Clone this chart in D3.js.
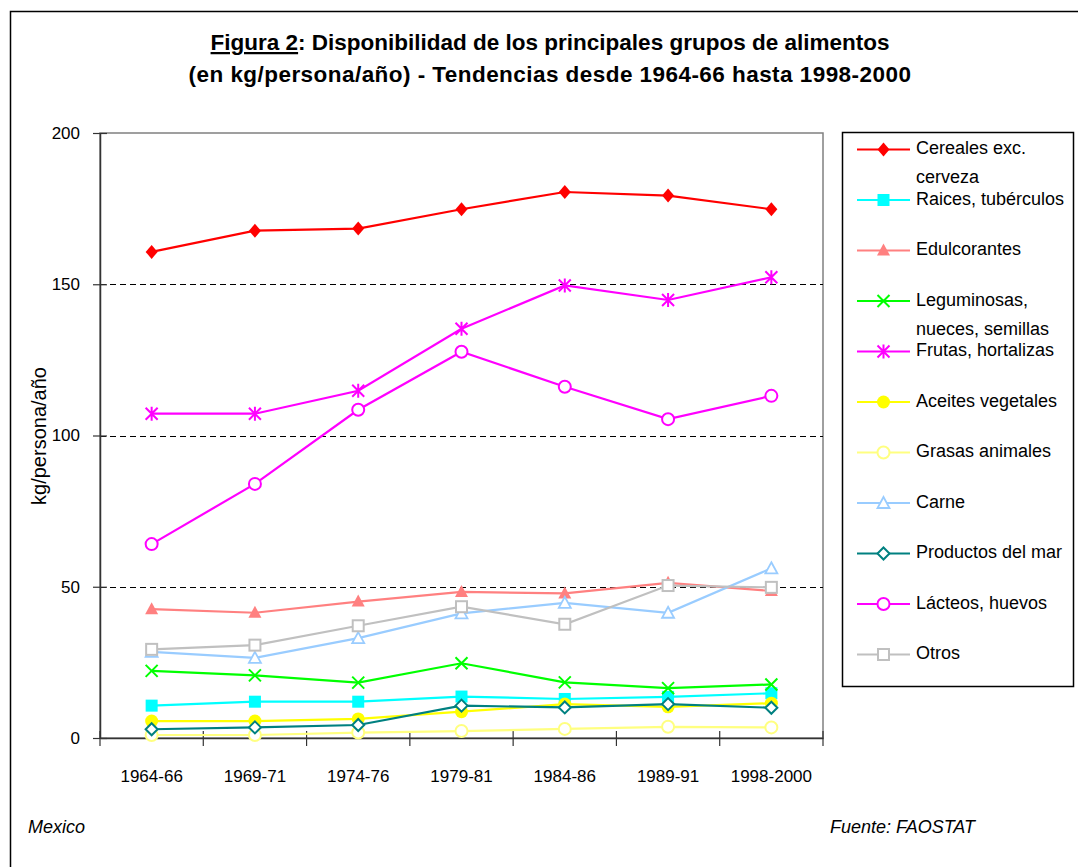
<!DOCTYPE html>
<html>
<head>
<meta charset="utf-8">
<script src="https://cdn.jsdelivr.net/npm/d3@7"></script>
<style>
  body { margin: 0; background: #fff; }
  svg { display: block; }
  text { font-family: "Liberation Sans", Arial, sans-serif; fill: #000; }
</style>
</head>
<body>
<svg id="chart" width="1078" height="867"></svg>
<script>
// Periods (x categories) and per-group availability, kg/persona/año
const periods = ["1964-66", "1969-71", "1974-76", "1979-81", "1984-86", "1989-91", "1998-2000"];
const cereales     = [160.7, 167.7, 168.4, 174.8, 180.5, 179.3, 174.8];
const raices       = [10.7, 12.0, 12.0, 13.7, 12.9, 13.6, 14.8];
const edulcorantes = [42.6, 41.4, 45.1, 48.3, 47.8, 51.3, 48.6];
const leguminosas  = [22.2, 20.7, 18.3, 24.7, 18.4, 16.5, 17.7];
const frutas       = [107.2, 107.2, 114.8, 135.3, 149.6, 144.8, 152.3];
const aceites      = [5.6, 5.6, 6.3, 8.7, 11.2, 10.3, 11.5];
const grasas       = [1.0, 1.0, 1.8, 2.3, 3.0, 3.7, 3.5];
const carne        = [28.5, 26.5, 33.0, 41.2, 44.7, 41.4, 56.1];
const mar          = [2.9, 3.5, 4.3, 10.7, 10.1, 11.2, 10.0];
const lacteos      = [64.1, 84.0, 108.5, 127.7, 116.1, 105.4, 113.1];
const otros        = [29.3, 30.7, 37.1, 43.4, 37.6, 50.4, 49.8];
const yTicks = [0, 50, 100, 150, 200];
const gridValues = [50, 100, 150];

// Series in drawing order, with their legend text and marker style
const series = [
  { label: ["Cereales exc.", "cerveza"], values: cereales, color: "#FF0000", marker: "diamond", filled: true },
  { label: ["Raices, tubérculos"], values: raices, color: "#00FFFF", marker: "square", filled: true },
  { label: ["Edulcorantes"], values: edulcorantes, color: "#FF8080", marker: "triangle", filled: true },
  { label: ["Leguminosas,", "nueces, semillas"], values: leguminosas, color: "#00FF00", marker: "x", filled: false },
  { label: ["Frutas, hortalizas"], values: frutas, color: "#FF00FF", marker: "star", filled: false },
  { label: ["Aceites vegetales"], values: aceites, color: "#FFFF00", marker: "circle", filled: true },
  { label: ["Grasas animales"], values: grasas, color: "#FFFF80", marker: "circle", filled: false },
  { label: ["Carne"], values: carne, color: "#99CCFF", marker: "triangle", filled: false },
  { label: ["Productos del mar"], values: mar, color: "#008080", marker: "diamond", filled: false },
  { label: ["Lácteos, huevos"], values: lacteos, color: "#FF00FF", marker: "circle", filled: false },
  { label: ["Otros"], values: otros, color: "#C0C0C0", marker: "square", filled: false }
];

const svg = d3.select("#chart");

// Outer frame
svg.append("rect")
  .attr("x", 10.5).attr("y", 11.5).attr("width", 1100).attr("height", 900)
  .attr("fill", "none").attr("stroke", "#000").attr("stroke-width", 1.5);

// Title
const title = svg.append("text")
  .attr("x", 550).attr("y", 50)
  .attr("text-anchor", "middle")
  .attr("font-size", 22.5).attr("font-weight", "bold");
title.append("tspan").attr("text-decoration", "underline").text("Figura 2");
title.append("tspan").text(": Disponibilidad de los principales grupos de alimentos");
svg.append("text")
  .attr("x", 550).attr("y", 82)
  .attr("text-anchor", "middle")
  .attr("font-size", 22.5).attr("font-weight", "bold")
  .attr("letter-spacing", 0.45)
  .text("(en kg/persona/año) - Tendencias desde 1964-66 hasta 1998-2000");

// Plot area
const plotLeft = 100, plotRight = 823, plotTop = 133, plotBottom = 738;
const x = d3.scaleBand().domain(periods).range([plotLeft, plotRight]);
const y = d3.scaleLinear().domain([0, 200]).range([plotBottom, plotTop]);

// Plot area border
svg.append("rect")
  .attr("x", plotLeft).attr("y", plotTop).attr("width", plotRight - plotLeft).attr("height", plotBottom - plotTop)
  .attr("fill", "none").attr("stroke", "#808080").attr("stroke-width", 1.5);

// Dashed gridlines
svg.append("g").selectAll("line").data(gridValues).join("line")
  .attr("x1", plotLeft).attr("x2", plotRight)
  .attr("y1", d => Math.round(y(d)) + 0.5).attr("y2", d => Math.round(y(d)) + 0.5)
  .attr("stroke", "#000").attr("stroke-width", 1).attr("stroke-dasharray", "6,4");

// Y axis with ticks that cross the axis line
const yAxis = svg.append("g")
  .attr("transform", `translate(${plotLeft},0)`)
  .call(d3.axisLeft(y).tickValues(yTicks).tickSize(7).tickPadding(13).tickSizeOuter(0));
yAxis.select(".domain").attr("stroke", "#333").attr("stroke-width", 1.5);
yAxis.selectAll(".tick line").attr("x1", 7).attr("x2", -7).attr("stroke", "#333").attr("stroke-width", 1.2);
yAxis.selectAll(".tick text").attr("font-size", 17).attr("font-family", "Liberation Sans, Arial, sans-serif").attr("fill", "#000");

// X axis: labels at category centres, ticks at category boundaries
const xAxis = svg.append("g")
  .attr("transform", `translate(0,${plotBottom})`)
  .call(d3.axisBottom(x).tickSize(0).tickPadding(32).tickSizeOuter(0));
xAxis.select(".domain").attr("stroke", "#333").attr("stroke-width", 1.5);
xAxis.selectAll(".tick text").attr("font-size", 17).attr("font-family", "Liberation Sans, Arial, sans-serif").attr("fill", "#000");
const boundaries = periods.map(p => x(p)).concat([x.range()[1]]);
svg.append("g").selectAll("line").data(boundaries).join("line")
  .attr("x1", d => d).attr("x2", d => d)
  .attr("y1", plotBottom - 7).attr("y2", plotBottom + 8)
  .attr("stroke", "#333").attr("stroke-width", 1.2);

// Y axis title
svg.append("text")
  .attr("transform", "translate(46,436) rotate(-90)")
  .attr("text-anchor", "middle")
  .attr("font-size", 20)
  .text("kg/persona/año");

// Marker drawing
function drawMarker(g, s) {
  const c = s.color;
  switch (s.marker) {
    case "diamond":
      if (s.filled) g.append("path").attr("d", "M0,-7L6,0L0,7L-6,0Z").attr("fill", c);
      else g.append("path").attr("d", "M0,-6L6,0L0,6L-6,0Z").attr("fill", "#fff").attr("stroke", c).attr("stroke-width", 2);
      break;
    case "square":
      if (s.filled) g.append("rect").attr("x", -6).attr("y", -6).attr("width", 12).attr("height", 12).attr("fill", c);
      else g.append("rect").attr("x", -5.5).attr("y", -5.5).attr("width", 11).attr("height", 11).attr("fill", "#fff").attr("stroke", c).attr("stroke-width", 2);
      break;
    case "triangle":
      if (s.filled) g.append("path").attr("d", "M0,-7L6.5,5L-6.5,5Z").attr("fill", c);
      else g.append("path").attr("d", "M0,-6L6,5L-6,5Z").attr("fill", "#fff").attr("stroke", c).attr("stroke-width", 1.8);
      break;
    case "x":
      g.append("path").attr("d", "M-6,-6L6,6M-6,6L6,-6").attr("stroke", c).attr("stroke-width", 2).attr("fill", "none");
      break;
    case "star":
      g.append("path").attr("d", "M-6,-6L6,6M-6,6L6,-6M0,-7L0,7").attr("stroke", c).attr("stroke-width", 2).attr("fill", "none");
      break;
    case "circle":
      if (s.filled) g.append("circle").attr("r", 6.5).attr("fill", c);
      else g.append("circle").attr("r", 6).attr("fill", "#fff").attr("stroke", c).attr("stroke-width", 2);
      break;
  }
}

// Series lines and markers
const line = d3.line()
  .x((d, i) => x(periods[i]) + x.bandwidth() / 2)
  .y(d => y(d));
series.forEach(s => {
  const g = svg.append("g");
  g.append("path").attr("d", line(s.values))
    .attr("fill", "none").attr("stroke", s.color).attr("stroke-width", 2.2);
  s.values.forEach((v, i) => {
    const m = g.append("g")
      .attr("transform", `translate(${x(periods[i]) + x.bandwidth() / 2},${y(v)})`);
    drawMarker(m, s);
  });
});

// Legend
const legend = svg.append("g");
legend.append("rect")
  .attr("x", 842.5).attr("y", 132.5).attr("width", 231).attr("height", 554)
  .attr("fill", "#fff").attr("stroke", "#000").attr("stroke-width", 1.5);
series.forEach((s, i) => {
  const cy = 149.5 + i * 50.5;
  const g = legend.append("g");
  g.append("line").attr("x1", 857).attr("x2", 910).attr("y1", cy).attr("y2", cy)
    .attr("stroke", s.color).attr("stroke-width", 2.2);
  drawMarker(g.append("g").attr("transform", `translate(883.5,${cy})`), s);
  s.label.forEach((t, j) => {
    g.append("text").attr("x", 916).attr("y", cy + 4.5 + j * 29)
      .attr("font-size", 18).text(t);
  });
});

// Footnotes
svg.append("text").attr("x", 28).attr("y", 833)
  .attr("font-size", 18).attr("font-style", "italic").text("Mexico");
svg.append("text").attr("x", 830).attr("y", 833)
  .attr("font-size", 18).attr("font-style", "italic").text("Fuente: FAOSTAT");
</script>
</body>
</html>
